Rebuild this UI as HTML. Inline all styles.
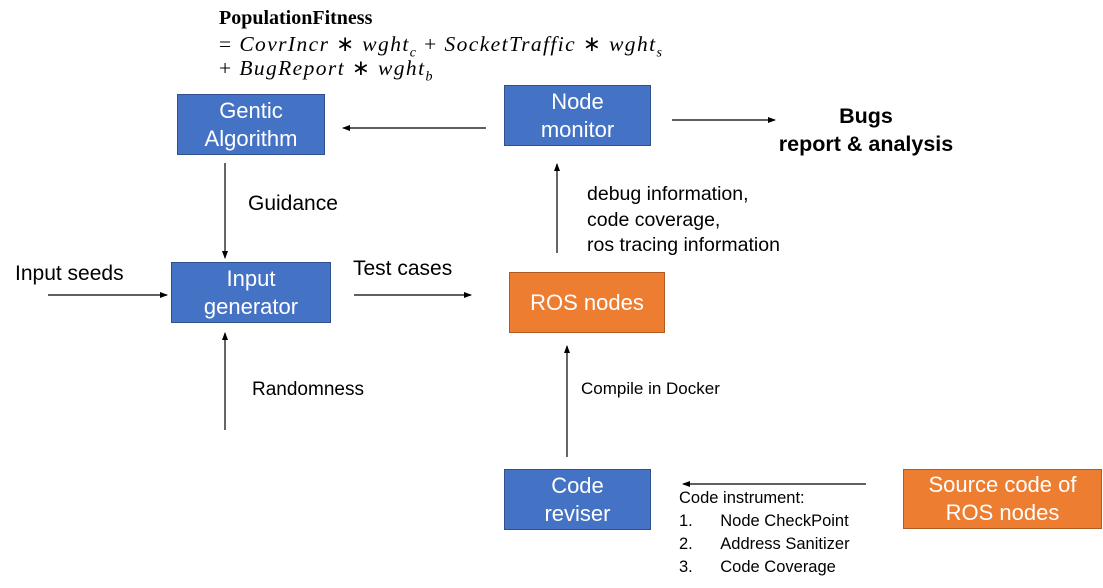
<!DOCTYPE html>
<html><head><meta charset="utf-8"><style>
body{margin:0;width:1103px;height:588px;background:#fff;position:relative;overflow:hidden;font-family:"Liberation Sans","DejaVu Sans",sans-serif;}
.b{position:absolute;color:#fff;font-size:22px;line-height:28px;text-align:center;display:flex;align-items:center;justify-content:center;box-sizing:border-box;border:1.5px solid #2f528f}
.bl{background:#4472c4}
.or{background:#ed7d31;border-color:#ae5a21}
.t{position:absolute;color:#000;font-size:20px;white-space:nowrap}
.m{position:absolute;font-family:"Liberation Serif",serif;font-size:21.5px;letter-spacing:1.4px;white-space:nowrap;font-style:italic}
svg{position:absolute;left:0;top:0}
</style></head><body>
<svg width="1103" height="588"><defs><marker id="a" markerWidth="8" markerHeight="8" refX="7" refY="4" orient="auto" markerUnits="userSpaceOnUse"><path d="M0,1 L8,4 L0,7z" fill="#000"/></marker></defs>
<g stroke="#000" stroke-width="1.2" marker-end="url(#a)">
<line x1="486" y1="128" x2="343" y2="128"/>
<line x1="672" y1="120" x2="775" y2="120"/>
<line x1="225" y1="163" x2="225" y2="258"/>
<line x1="48" y1="295" x2="167" y2="295"/>
<line x1="354" y1="295" x2="471" y2="295"/>
<line x1="557" y1="253" x2="557" y2="164"/>
<line x1="225" y1="430" x2="225" y2="333"/>
<line x1="567" y1="457" x2="567" y2="346"/>
<line x1="866" y1="484" x2="683" y2="484"/>
</g></svg>
<div class="t" style="left:219px;top:7px;font-family:'Liberation Serif',serif;font-weight:bold;font-size:20px">PopulationFitness</div>
<div class="m" style="left:219px;top:32px"><span style="font-style:normal">= </span>CovrIncr <span style="font-style:normal">∗</span> wght<sub style="font-size:14px">c</sub> <span style="font-style:normal">+</span> SocketTraffic <span style="font-style:normal">∗</span> wght<sub style="font-size:14px">s</sub></div>
<div class="m" style="left:219px;top:56px"><span style="font-style:normal">+ </span>BugReport <span style="font-style:normal">∗</span> wght<sub style="font-size:14px">b</sub></div>
<div class="b bl" style="left:177px;top:94px;width:148px;height:61px">Gentic<br>Algorithm</div>
<div class="b bl" style="left:504px;top:85px;width:147px;height:61px">Node<br>monitor</div>
<div class="b bl" style="left:171px;top:262px;width:160px;height:61px">Input<br>generator</div>
<div class="b or" style="left:509px;top:272px;width:156px;height:61px">ROS nodes</div>
<div class="b bl" style="left:504px;top:469px;width:147px;height:61px">Code<br>reviser</div>
<div class="b or" style="left:903px;top:469px;width:199px;height:60px">Source code of<br>ROS nodes</div>
<div class="t" style="left:766px;top:102px;width:200px;text-align:center;font-weight:bold;font-size:21.5px;line-height:28px">Bugs<br>report &amp; analysis</div>
<div class="t" style="left:248px;top:192px;font-size:21px">Guidance</div>
<div class="t" style="left:15px;top:262px;font-size:21px">Input seeds</div>
<div class="t" style="left:353px;top:257px;font-size:21px">Test cases</div>
<div class="t" style="left:587px;top:182px;font-size:19.5px;line-height:25.5px">debug information,<br>code coverage,<br>ros tracing information</div>
<div class="t" style="left:252px;top:379px;font-size:19px">Randomness</div>
<div class="t" style="left:581px;top:379px;font-size:17px">Compile in Docker</div>
<div class="t" style="left:679px;top:487px;font-size:16.5px;line-height:23px">Code instrument:<br>1.&nbsp;&nbsp;&nbsp;&nbsp;&nbsp;&nbsp;Node CheckPoint<br>2.&nbsp;&nbsp;&nbsp;&nbsp;&nbsp;&nbsp;Address Sanitizer<br>3.&nbsp;&nbsp;&nbsp;&nbsp;&nbsp;&nbsp;Code Coverage</div>
</body></html>
